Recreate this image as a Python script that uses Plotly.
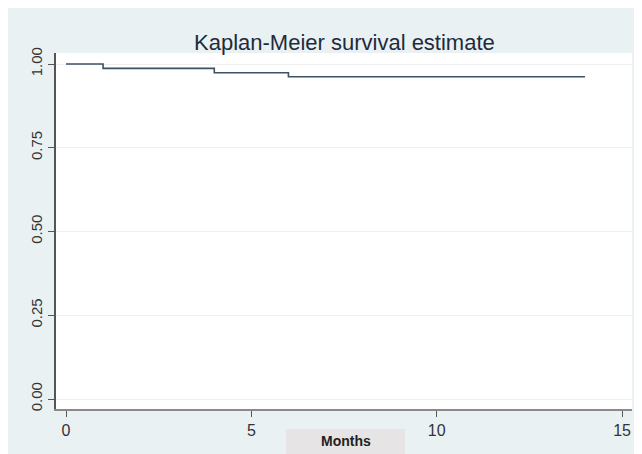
import plotly.graph_objects as go

# Data
months = [0, 1, 4, 6, 14]
survival = [1.0, 0.987, 0.974, 0.962, 0.962]
x_ticks = [0, 5, 10, 15]
y_ticks = [0.0, 0.25, 0.5, 0.75, 1.0]
y_tick_labels = ["0.00", "0.25", "0.50", "0.75", "1.00"]
title_text = "Kaplan-Meier survival estimate"
x_title = "Months"

W, H = 642, 454
OFF = 8  # page body margin offset
L, R, T, B = 56 - OFF, W - (632 - OFF), 53 - OFF, H - (409 - OFF)
pw, ph = W - L - R, H - T - B

def px_x(px):
    return (px - OFF - L) / pw

def px_y(py):
    return (H - B - (py - OFF)) / ph

BG = "#eaf1f3"

fig = go.Figure()
fig.add_trace(go.Scatter(
    x=months, y=survival, mode="lines", line_shape="hv",
    line=dict(color="#3e5266", width=1.6), showlegend=False, hoverinfo="skip",
))

shapes = [
    # grey box behind x-axis title
    dict(type="rect", xref="paper", yref="paper", x0=px_x(286), x1=px_x(405),
         y0=px_y(H + 20), y1=px_y(429), fillcolor="#e6e4e4", line_width=0, layer="below"),
]

annotations = [
    dict(text=title_text, xref="paper", yref="paper", x=0.5, y=1, yanchor="middle",
         xanchor="center", yshift=11, showarrow=False,
         font=dict(family="Liberation Sans, Arial", size=22, color="#1e2b3c")),
    dict(text="<b>" + x_title + "</b>", xref="paper", yref="paper", x=px_x(346),
         y=px_y(441), xanchor="center", yanchor="middle", showarrow=False,
         font=dict(family="Liberation Sans, Arial", size=14, color="#222222")),
]

fig.update_layout(
    width=W, height=H,
    margin=dict(l=L, r=R, t=T, b=B, pad=0),
    paper_bgcolor=BG, plot_bgcolor="white",
    shapes=shapes, annotations=annotations,
    xaxis=dict(range=[(56 - 66) / 37.07, (632 - 66) / 37.07], tickvals=x_ticks,
               ticks="outside", ticklen=6, tickwidth=1.2, tickcolor="#555555",
               showline=True, linecolor="#8a8a8a", linewidth=2, showgrid=False,
               zeroline=False,
               tickfont=dict(family="Liberation Sans, Arial", size=16, color="#333333")),
    yaxis=dict(range=[(399 - 409) / 335, (399 - 53) / 335], tickvals=y_ticks,
               ticktext=y_tick_labels, tickangle=-90,
               ticks="outside", ticklen=6, tickwidth=1.2, tickcolor="#555555",
               showline=True, linecolor="#555555", linewidth=2,
               showgrid=True, gridcolor="#efefef", gridwidth=1, zeroline=False,
               tickfont=dict(family="Liberation Sans, Arial", size=15, color="#333333")),
)

fig.write_html("out.html")
